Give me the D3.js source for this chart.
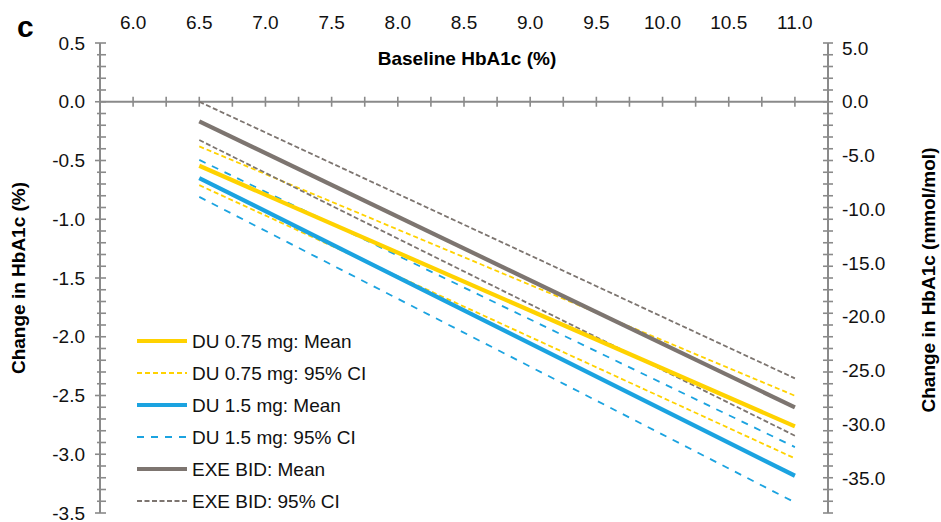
<!DOCTYPE html>
<html><head><meta charset="utf-8">
<script src="https://cdn.jsdelivr.net/npm/d3@7"></script>
<style>body{margin:0;background:#fff}svg{display:block;font-family:"Liberation Sans",Arial,sans-serif}</style>
</head><body>
<svg id="c" width="941" height="522"></svg>
<script>
// Data
const xEnds = [6.5, 11.0];
const seriesNames = ["DU 0.75 mg: Mean","DU 0.75 mg: 95% CI","DU 1.5 mg: Mean","DU 1.5 mg: 95% CI","EXE BID: Mean","EXE BID: 95% CI"];
const du075Mean = [-0.545, -2.763];
const du075Upper = [-0.38, -2.502];
const du075Lower = [-0.71, -3.035];
const du15Mean = [-0.65, -3.183];
const du15Upper = [-0.495, -2.939];
const du15Lower = [-0.81, -3.41];
const exeMean = [-0.167, -2.601];
const exeUpper = [0.0, -2.354];
const exeLower = [-0.326, -2.842];
const xTickLabels = [6.0,6.5,7.0,7.5,8.0,8.5,9.0,9.5,10.0,10.5,11.0];
const yTickLabels = [0.5,0.0,-0.5,-1.0,-1.5,-2.0,-2.5,-3.0,-3.5];
const y2TickLabels = [5.0,0.0,-5.0,-10.0,-15.0,-20.0,-25.0,-30.0,-35.0];
const mmolFactor = 10.93;

const svg = d3.select("#c");
const x = d3.scaleLinear().domain([5.75, 11.25]).range([100, 828]);
const y = d3.scaleLinear().domain([0.5, -3.5]).range([43, 513]);
const y2 = d3.scaleLinear().domain([0.5*mmolFactor, -3.5*mmolFactor]).range([43, 513]);

const axisCol = "#8a8a8a";
const yellow = "#FFD200", blue = "#1BA3E0", gray = "#7D7570";

const g = svg.append("g");
// x axis at y=0
g.append("line").attr("x1", x(5.75)).attr("x2", x(11.25)).attr("y1", y(0)).attr("y2", y(0)).attr("stroke", axisCol).attr("stroke-width", 2);
const xt = d3.range(0, 23).map(i => 5.75 + i*0.25).filter(v => v > 5.8 && v < 11.2);
g.selectAll(".xt").data(xt).join("line").attr("x1", d=>x(d)).attr("x2", d=>x(d)).attr("y1", y(0)-5).attr("y2", y(0)+5).attr("stroke", axisCol).attr("stroke-width", 1.6);
g.selectAll(".xl").data(xTickLabels).join("text").attr("x", d=>x(d)).attr("y", 29).attr("text-anchor","middle").attr("font-size",19).attr("fill","#111").text(d=>d.toFixed(1));

// left axis
g.append("line").attr("x1", 100).attr("x2", 100).attr("y1", y(0.5)).attr("y2", y(-3.5)).attr("stroke", axisCol).attr("stroke-width", 2);
const yt = d3.range(0, 41).map(i => +(0.5 - i*0.1).toFixed(2));
g.selectAll(".yt").data(yt).join("line").attr("x1", d => Math.abs(d*2 - Math.round(d*2))<1e-6 ? 95 : 97).attr("x2", 106).attr("y1", d=>y(d)).attr("y2", d=>y(d)).attr("stroke", axisCol).attr("stroke-width", 1.6);
g.selectAll(".yl").data(yTickLabels).join("text").attr("x", 85).attr("y", d=>y(d)).attr("dy","0.35em").attr("text-anchor","end").attr("font-size",19).attr("fill","#111").text(d=>d.toFixed(1));

// right axis
const rx = x(11.25);
g.append("line").attr("x1", rx).attr("x2", rx).attr("y1", y(0.5)).attr("y2", y(-3.5)).attr("stroke", axisCol).attr("stroke-width", 2);
g.selectAll(".rt").data(yt).join("line").attr("x1", rx-5).attr("x2", rx+5).attr("y1", d=>y(d)).attr("y2", d=>y(d)).attr("stroke", axisCol).attr("stroke-width", 1.6);
g.selectAll(".rl").data(y2TickLabels).join("text").attr("x", rx+14).attr("y", d=>y2(d)).attr("dy","0.35em").attr("text-anchor","start").attr("font-size",19).attr("fill","#111").text(d=>d.toFixed(1));

// titles
svg.append("text").attr("x", 17).attr("y", 37).attr("font-size", 30).attr("font-weight","bold").text("c");
svg.append("text").attr("x", 467).attr("y", 65).attr("text-anchor","middle").attr("font-size",19).attr("font-weight","bold").text("Baseline HbA1c (%)");
svg.append("text").attr("transform","translate(25,278) rotate(-90)").attr("text-anchor","middle").attr("font-size",19).attr("font-weight","bold").text("Change in HbA1c (%)");
svg.append("text").attr("transform","translate(935,280) rotate(-90)").attr("text-anchor","middle").attr("font-size",19).attr("font-weight","bold").text("Change in HbA1c (mmol/mol)");

// lines
const styles = {
  mean075: {c: yellow, w: 4.2, d: null},
  ci075: {c: yellow, w: 1.8, d: "5,3"},
  mean15: {c: blue, w: 4.2, d: null},
  ci15: {c: blue, w: 1.8, d: "7,7"},
  meanExe: {c: gray, w: 4.2, d: null},
  ciExe: {c: gray, w: 1.8, d: "5,2.5"}
};
const lines = [
  [du15Lower, styles.ci15],[du15Upper, styles.ci15],
  [du075Lower, styles.ci075],[du075Upper, styles.ci075],
  [exeLower, styles.ciExe],[exeUpper, styles.ciExe],
  [du15Mean, styles.mean15],[du075Mean, styles.mean075],[exeMean, styles.meanExe]
];
const lineGen = d3.line().x(d=>x(d[0])).y(d=>y(d[1]));
lines.forEach(([vals, s]) => {
  svg.append("path").attr("d", lineGen(xEnds.map((xv,i)=>[xv, vals[i]]))).attr("fill","none")
    .attr("stroke", s.c).attr("stroke-width", s.w).attr("stroke-dasharray", s.d);
});

// legend
const legStyles = [styles.mean075, styles.ci075, styles.mean15, styles.ci15, styles.meanExe, styles.ciExe];
const legY = [341, 373, 405, 437, 469, 501];
seriesNames.forEach((n, i) => {
  const s = legStyles[i];
  svg.append("line").attr("x1",137).attr("x2",187).attr("y1",legY[i]).attr("y2",legY[i]).attr("stroke",s.c).attr("stroke-width",s.w).attr("stroke-dasharray",s.d);
  svg.append("text").attr("x",192).attr("y",legY[i]).attr("dy","0.35em").attr("font-size",19).attr("fill","#111").text(n);
});
</script>
</body></html>
